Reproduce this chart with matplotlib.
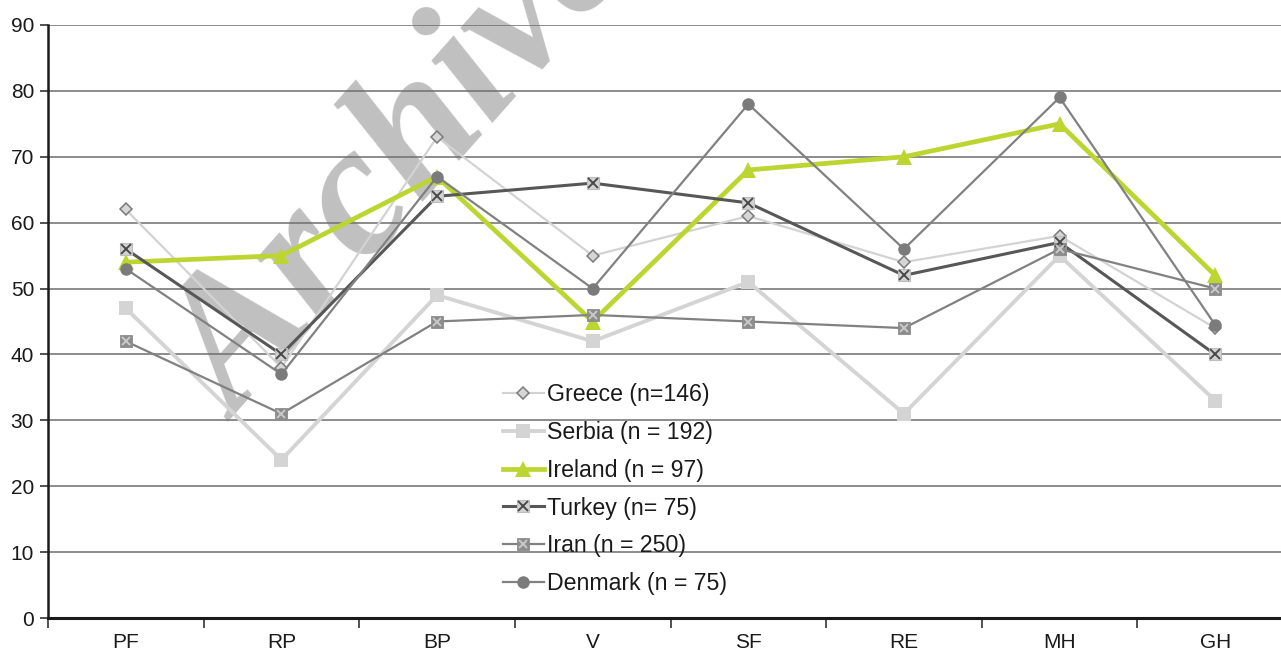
import matplotlib
matplotlib.use("Agg")
import matplotlib.pyplot as plt
from matplotlib.legend_handler import HandlerTuple
import numpy as np

categories = ["PF", "RP", "BP", "V", "SF", "RE", "MH", "GH"]

greece = [62, 38, 73, 55, 61, 54, 58, 44]
serbia = [47, 24, 49, 42, 51, 31, 55, 33]
ireland = [54, 55, 67, 45, 68, 70, 75, 52]
turkey = [56, 40, 64, 66, 63, 52, 57, 40]
iran = [42, 31, 45, 46, 45, 44, 56, 50]
denmark = [53, 37, 67, 50, 78, 56, 79, 44.5]

labels = ["Greece (n=146)", "Serbia (n = 192)", "Ireland (n = 97)",
          "Turkey (n= 75)", "Iran (n = 250)", "Denmark (n = 75)"]
y_ticks = [0, 10, 20, 30, 40, 50, 60, 70, 80, 90]

# line style, marker, and an optional cross drawn over the marker
styles = [
    dict(color="#d3d3d3", lw=1.6, marker="D", ms=6.5, mfc="#d6d6d6", mec="#7a7a7a", mew=1.1, cross=None),
    dict(color="#d4d4d4", lw=2.8, marker="s", ms=9.5, mfc="#d4d4d4", mec="#d4d4d4", mew=0, cross=None),
    dict(color="#bcd531", lw=3.4, marker="^", ms=11.5, mfc="#bcd531", mec="#bcd531", mew=0, cross=None),
    dict(color="#575757", lw=2.2, marker="s", ms=8.5, mfc="#d2d2d2", mec="#bdbdbd", mew=0.8, cross="#4a4a4a"),
    dict(color="#818181", lw=1.6, marker="s", ms=8.0, mfc="#8c8c8c", mec="#8c8c8c", mew=0.6, cross="#c9c9c9"),
    dict(color="#818181", lw=1.6, marker="o", ms=9, mfc="#7b7b7b", mec="#7b7b7b", mew=0, cross=None),
]

series = [greece, serbia, ireland, turkey, iran, denmark]

fig = plt.figure(figsize=(12.81, 6.52), dpi=100)
fig.patch.set_facecolor("white")
ax = fig.add_axes([48 / 1281, 34 / 652, 1245 / 1281, 593 / 652])
ax.set_facecolor("none")

x = np.arange(len(categories))
handles = []
for vals, st in zip(series, styles):
    (h,) = ax.plot(x, vals, color=st["color"], lw=st["lw"], marker=st["marker"],
                   ms=st["ms"], mfc=st["mfc"], mec=st["mec"], mew=st["mew"],
                   zorder=3, clip_on=False)
    if st["cross"] is not None:
        (hx,) = ax.plot(x, vals, ls="none", marker="x", ms=st["ms"] * 0.78,
                        mec=st["cross"], mew=1.4, zorder=3.01, clip_on=False)
        handles.append((h, hx))
    else:
        handles.append(h)

ax.set_xlim(-0.5, len(categories) - 0.5)
ax.set_ylim(0, 90)
ax.set_yticks(y_ticks)
ax.set_xticks(x)
ax.set_xticklabels(categories)
ax.set_xticks(np.arange(len(categories) + 1) - 0.5, minor=True)

ax.yaxis.grid(True, color="#6e6e6e", lw=1.1, zorder=1)
ax.set_axisbelow(True)

for side in ("top", "right"):
    ax.spines[side].set_visible(False)
ax.spines["left"].set_linewidth(1.8)
ax.spines["bottom"].set_linewidth(2.2)
ax.spines["left"].set_color("#1a1a1a")
ax.spines["bottom"].set_color("#1a1a1a")

ax.tick_params(axis="x", which="major", length=0, pad=11, labelsize=15, labelcolor="#1a1a1a")
ax.tick_params(axis="x", which="minor", length=7, width=1.2, direction="out", color="#333333")
ax.tick_params(axis="y", length=6, width=1.2, direction="out", pad=4, labelsize=15,
               labelcolor="#1a1a1a", color="#333333")
for lbl in ax.get_xticklabels() + ax.get_yticklabels():
    lbl.set_family("Liberation Sans")

leg = ax.legend(handles=handles, labels=labels, loc="upper left",
                bbox_to_anchor=(503 / 1281, 1 - 383 / 652),
                bbox_transform=fig.transFigure, frameon=False, numpoints=1,
                handlelength=1.75, handletextpad=0.15, labelspacing=0.64,
                borderpad=0, borderaxespad=0,
                handler_map={tuple: HandlerTuple(ndivide=1, pad=0)},
                prop=dict(family="Liberation Sans", size=16.7))
for t in leg.get_texts():
    t.set_color("#1a1a1a")

fig.text(238 / 1281, 1 - 422 / 652, "Archive", rotation=48.5, rotation_mode="anchor",
         ha="left", va="baseline", fontsize=135, family="Liberation Serif",
         weight="bold", style="italic", color="#c0c0c0", zorder=-1)

fig.savefig("out.png", dpi=100, facecolor="white")
